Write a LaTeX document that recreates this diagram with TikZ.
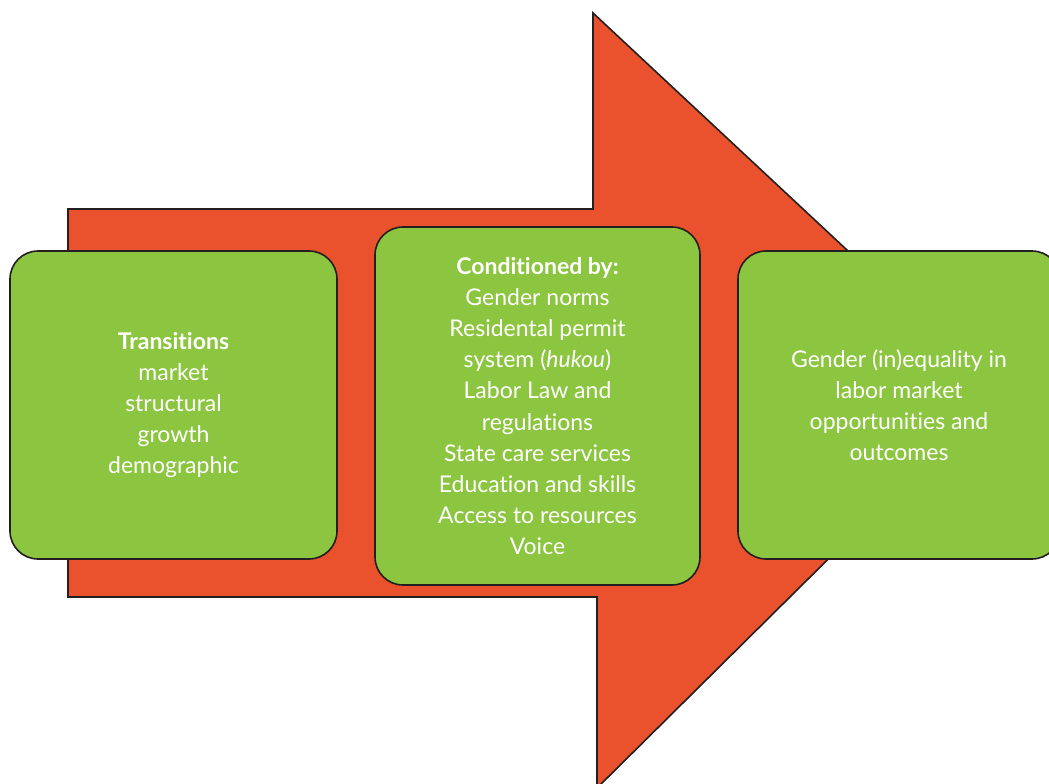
\documentclass[tikz,border=0pt]{standalone}
\usepackage{fontspec}
\setmainfont{Lato}[Ligatures=NoCommon]
\definecolor{arrowred}{HTML}{E9522C}
\definecolor{boxgreen}{HTML}{8CC540}
\definecolor{edgegray}{HTML}{231F20}

\begin{document}
\begin{tikzpicture}[x=1pt, y=-1pt,
    phase/.style={draw=edgegray, line width=1.6pt, fill=boxgreen, rounded corners=28pt,
      text=white, align=center, inner sep=0pt, font=\fontsize{23}{31.2}\selectfont}]
    \useasboundingbox (0,0) rectangle (1049,784);
    \clip (0,0) rectangle (1049,784);

    % Big arrow behind the boxes
    \draw[edgegray, line width=1.6pt, fill=arrowred]
      (68,209) -- (593,209) -- (593,13) -- (998,391) -- (597,788)
      -- (597,597) -- (68,597) -- cycle;

    % Rounded boxes
    \node[phase, minimum width=327pt, minimum height=308pt] (transitions) at (173.5,405)
      {\textbf{Transitions}\\market\\structural\\growth\\demographic};
    \node[phase, minimum width=325pt, minimum height=358pt] (conditions) at (537.5,406)
      {\textbf{Conditioned by:}\\Gender norms\\Residental permit\\system (\textit{hukou})\\Labor Law and\\regulations\\State care services\\Education and skills\\Access to resources\\Voice};
    \node[phase, minimum width=322pt, minimum height=308pt] (outcomes) at (899,405)
      {Gender (in)equality in\\labor market\\opportunities and\\outcomes};
\end{tikzpicture}
\end{document}
